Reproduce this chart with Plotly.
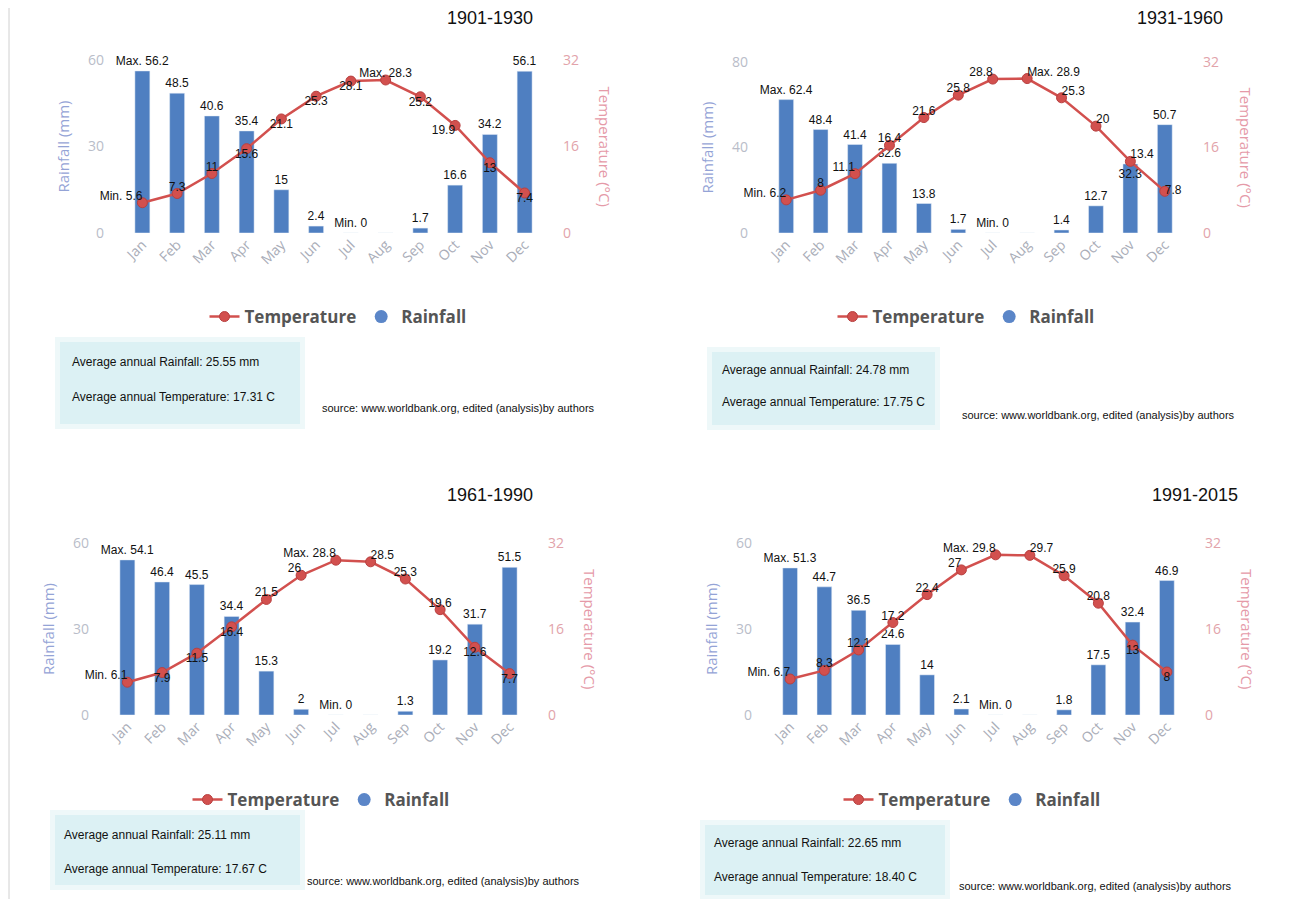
import plotly.graph_objects as go

W, H = 1293, 899

months = ["Jan", "Feb", "Mar", "Apr", "May", "Jun", "Jul", "Aug", "Sep", "Oct", "Nov", "Dec"]
periods = ["1901-1930", "1931-1960", "1961-1990", "1991-2015"]

rain_1901 = [56.2, 48.5, 40.6, 35.4, 15, 2.4, 0, 0, 1.7, 16.6, 34.2, 56.1]
temp_1901 = [5.6, 7.3, 11, 15.6, 21.1, 25.3, 28.1, 28.3, 25.2, 19.9, 13, 7.4]

rain_1931 = [62.4, 48.4, 41.4, 32.6, 13.8, 1.7, 0, 0, 1.4, 12.7, 32.3, 50.7]
temp_1931 = [6.2, 8, 11.1, 16.4, 21.6, 25.8, 28.8, 28.9, 25.3, 20, 13.4, 7.8]

rain_1961 = [54.1, 46.4, 45.5, 34.4, 15.3, 2, 0, 0, 1.3, 19.2, 31.7, 51.5]
temp_1961 = [6.1, 7.9, 11.5, 16.4, 21.5, 26, 28.8, 28.5, 25.3, 19.6, 12.6, 7.7]

rain_1991 = [51.3, 44.7, 36.5, 24.6, 14, 2.1, 0, 0, 1.8, 17.5, 32.4, 46.9]
temp_1991 = [6.7, 8.3, 12.1, 17.2, 22.4, 27, 29.8, 29.7, 25.9, 20.8, 13, 8]

avg_rain = ["25.55", "24.78", "25.11", "22.65"]
avg_temp = ["17.31", "17.75", "17.67", "18.40"]

rain_ticks = [[0, 30, 60], [0, 40, 80], [0, 30, 60], [0, 30, 60]]
temp_ticks = [0, 16, 32]

rain_series = [rain_1901, rain_1931, rain_1961, rain_1991]
temp_series = [temp_1901, temp_1931, temp_1961, temp_1991]

SOURCE = "source: www.worldbank.org, edited (analysis)by authors"

BAR_BLUE = "#4f7fc1"
LINE_RED = "#d2504e"
LABEL_FONT = "Liberation Sans, Arial, sans-serif"

# where each temperature label sits relative to its marker
T, B, TL, TR = "top center", "bottom center", "top left", "top right"
temp_label_pos = [
    [TL, T, T, B, B, B, B, T, B, "bottom left", B, B],
    [TL, T, TL, T, T, T, TL, TR, TR, TR, TR, "middle right"],
    [TL, B, B, B, T, TL, TL, TR, T, T, B, B],
    [TL, T, T, T, T, TL, TL, TR, T, T, B, B],
]
# rainfall labels: outside above the bar, except where the line sits on top
O, I = "outside", "inside"
rain_label_pos = [
    [O] * 12,
    [O] * 10 + [I, O],
    [O] * 12,
    [O] * 12,
]

# pixel layout of every panel: plot box (left, right, top, bottom) etc.
panels = [
    dict(plot=(125, 542, 60, 233), title=(490, 18), legend=(338, 317),
         box=(60, 300, 342, 424), lines=(362, 397), text_x=70, source=(320, 408)),
    dict(plot=(769, 1182, 62, 233), title=(1180, 18), legend=(966, 317),
         box=(712, 935, 352, 425), lines=(370, 402), text_x=720, source=(960, 415)),
    dict(plot=(110, 527, 543, 715), title=(490, 495), legend=(321, 800),
         box=(55, 300, 815, 885), lines=(835, 869), text_x=62, source=(305, 881)),
    dict(plot=(773, 1184, 543, 715), title=(1195, 495), legend=(972, 800),
         box=(705, 945, 825, 895), lines=(843, 877), text_x=712, source=(957, 886)),
]

PAGE_PAD = 8  # browser body margin around the plot div


def px_x(p):
    return (p - PAGE_PAD) / W


def px_y(p):
    return 1 - (p - PAGE_PAD) / H


def fmt(v):
    return f"{v:g}"


fig = go.Figure()
layout = {}
shapes = []
annotations = []

for i, (rain, temp) in enumerate(zip(rain_series, temp_series)):
    n = i + 1
    xa = "x" if n == 1 else f"x{n}"
    ya_rain = "y" if n == 1 else f"y{2 * n - 1}"
    ya_temp = f"y{2 * n}"
    leg = "legend" if n == 1 else f"legend{n}"
    p = panels[i]
    left, right, top, bottom = p["plot"]

    imax = rain.index(max(rain))
    imin = rain.index(min(rain))
    rain_text = []
    for k, v in enumerate(rain):
        if k == imax:
            rain_text.append(f"Max. {fmt(v)}")
        elif k == imin:
            rain_text.append(f"Min. {fmt(v)}")
        elif v == 0:
            rain_text.append("")
        else:
            rain_text.append(fmt(v))

    tmax = temp.index(max(temp))
    tmin = temp.index(min(temp))
    temp_text = []
    for k, v in enumerate(temp):
        if k == tmax:
            temp_text.append(f"Max. {fmt(v)}")
        elif k == tmin:
            temp_text.append(f"Min. {fmt(v)}")
        else:
            temp_text.append(fmt(v))

    fig.add_trace(go.Bar(
        x=months, y=rain, xaxis=xa, yaxis=ya_rain,
        marker_color=BAR_BLUE, text=rain_text, textposition=rain_label_pos[i],
        insidetextanchor="end", textangle=0,
        textfont=dict(family=LABEL_FONT, size=12, color="#111"),
        constraintext="none", cliponaxis=False, showlegend=False,
    ))
    fig.add_trace(go.Scatter(
        x=months, y=temp, xaxis=xa, yaxis=ya_temp, mode="lines+markers",
        name="Temperature", legend=leg,
        line=dict(color=LINE_RED, width=2.5),
        marker=dict(size=10, color=LINE_RED, line=dict(color="#b84040", width=1)),
        cliponaxis=False,
    ))
    fig.add_trace(go.Scatter(
        x=months, y=temp, xaxis=xa, yaxis=ya_temp, mode="text",
        text=temp_text, textposition=temp_label_pos[i],
        textfont=dict(family=LABEL_FONT, size=12, color="#111"),
        showlegend=False, cliponaxis=False,
    ))
    # legend-only entry so Rainfall shows as a round marker
    fig.add_trace(go.Scatter(
        x=[None], y=[None], xaxis=xa, yaxis=ya_rain, mode="markers",
        name="Rainfall", legend=leg,
        marker=dict(size=13, color="#5b86c8", symbol="circle"),
    ))

    xkey = "xaxis" if n == 1 else f"xaxis{n}"
    ykey_rain = "yaxis" if n == 1 else f"yaxis{2 * n - 1}"
    ykey_temp = f"yaxis{2 * n}"

    layout[xkey] = dict(
        domain=[px_x(left), px_x(right)], anchor=ya_rain, type="category",
        range=[-0.5, len(months) - 0.5], automargin=False,
        tickangle=-45, showgrid=False, showline=False, zeroline=False,
        tickfont=dict(family="Open Sans", size=14, color="#a9adb8"),
    )
    layout[ykey_rain] = dict(
        domain=[px_y(bottom), px_y(top)], anchor=xa, automargin=False,
        range=[0, rain_ticks[i][-1]], tickvals=rain_ticks[i],
        showgrid=False, zeroline=False, showline=False,
        ticklabelstandoff=20,
        tickfont=dict(family="Open Sans", size=14, color="#b9bdc9"),
        title=dict(text="Rainfall (mm)", standoff=14,
                   font=dict(family="Open Sans", size=15, color="#94a3d6")),
    )
    layout[ykey_temp] = dict(
        overlaying=ya_rain, side="right", anchor=xa, automargin=False,
        range=[0, temp_ticks[-1]], tickvals=temp_ticks,
        showgrid=False, zeroline=False, showline=False,
        ticklabelstandoff=20,
        tickfont=dict(family="Open Sans", size=14, color="#e2a3aa"),
    )
    # right axis title reads top-to-bottom in the original
    annotations.append(dict(
        text="Temperature (°C)", textangle=90,
        x=px_x(right + 63), y=px_y((top + bottom) / 2), xref="paper", yref="paper",
        showarrow=False, xanchor="center", yanchor="middle",
        font=dict(family="Open Sans", size=15, color="#e59aa8"),
    ))

    lx, ly = p["legend"]
    layout[leg] = dict(
        x=px_x(lx), y=px_y(ly), xanchor="center", yanchor="middle",
        orientation="h", bgcolor="rgba(0,0,0,0)",
        font=dict(family="Open Sans", size=17, color="#555", weight="bold"),
    )

    tx, ty = p["title"]
    annotations.append(dict(
        text=periods[i], x=px_x(tx), y=px_y(ty), xref="paper", yref="paper",
        showarrow=False, xanchor="center", yanchor="middle",
        font=dict(family=LABEL_FONT, size=18, color="#111"),
    ))

    bx0, bx1, by0, by1 = p["box"]
    shapes.append(dict(
        type="rect", xref="paper", yref="paper", layer="below",
        x0=px_x(bx0 - 5), x1=px_x(bx1 + 5), y0=px_y(by1 + 5), y1=px_y(by0 - 5),
        fillcolor="#eef8f9", line=dict(width=0),
    ))
    shapes.append(dict(
        type="rect", xref="paper", yref="paper", layer="below",
        x0=px_x(bx0), x1=px_x(bx1), y0=px_y(by1), y1=px_y(by0),
        fillcolor="#dcf1f4", line=dict(width=0),
    ))
    l1, l2 = p["lines"]
    annotations.append(dict(
        text=f"Average annual Rainfall: {avg_rain[i]} mm",
        x=px_x(p["text_x"]), y=px_y(l1), xref="paper", yref="paper",
        showarrow=False, xanchor="left", yanchor="middle",
        font=dict(family=LABEL_FONT, size=12, color="#111"),
    ))
    annotations.append(dict(
        text=f"Average annual Temperature: {avg_temp[i]} C",
        x=px_x(p["text_x"]), y=px_y(l2), xref="paper", yref="paper",
        showarrow=False, xanchor="left", yanchor="middle",
        font=dict(family=LABEL_FONT, size=12, color="#111"),
    ))
    sx, sy = p["source"]
    annotations.append(dict(
        text=SOURCE, x=px_x(sx), y=px_y(sy), xref="paper", yref="paper",
        showarrow=False, xanchor="left", yanchor="middle",
        font=dict(family=LABEL_FONT, size=11, color="#111"),
    ))

# thin page border on the left
shapes.append(dict(type="line", xref="paper", yref="paper",
                   x0=px_x(9), x1=px_x(9), y0=0, y1=1,
                   line=dict(color="#d0d0d0", width=1)))

fig.update_layout(
    width=W, height=H,
    margin=dict(l=0, r=0, t=0, b=0, autoexpand=False),
    paper_bgcolor="white", plot_bgcolor="rgba(0,0,0,0)",
    bargap=0.57,
    shapes=shapes, annotations=annotations,
    **layout,
)

fig.write_html("out.html")
